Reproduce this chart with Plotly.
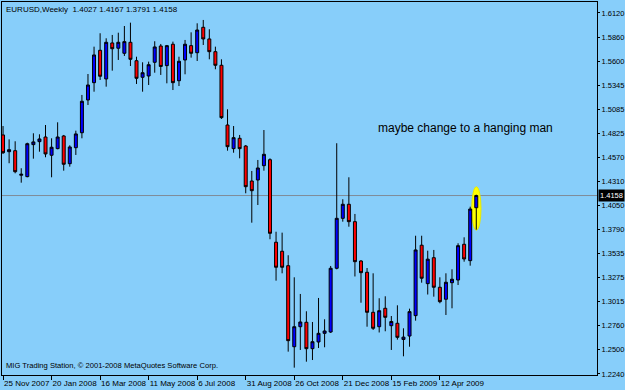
import plotly.graph_objects as go
import pandas as pd

# ---- data (EURUSD weekly) ----
week_start = "2007-11-25"
n_weeks = 79
opens = [1.4809, 1.4629, 1.4640, 1.4376, 1.4361, 1.4705, 1.4737, 1.4787, 1.4591, 1.4662,
         1.4798, 1.4500, 1.4672, 1.4833, 1.5185, 1.5371, 1.5719, 1.5411, 1.5798, 1.5741,
         1.5687, 1.5805, 1.5607, 1.5429, 1.5443, 1.5590, 1.5765, 1.5554, 1.5784, 1.5392,
         1.5615, 1.5769, 1.5693, 1.5966, 1.5841, 1.5704, 1.5558, 1.4916, 1.4662, 1.4773,
         1.4690, 1.4314, 1.4325, 1.4479, 1.4543, 1.3656, 1.3559, 1.3404, 1.2533, 1.2748,
         1.2796, 1.2512, 1.2584, 1.2677, 1.2691, 1.3376, 1.3913, 1.4064, 1.3877, 1.3454,
         1.3333, 1.2903, 1.2748, 1.2946, 1.2759, 1.2785, 1.2611, 1.2648, 1.2867, 1.3624,
         1.3211, 1.3490, 1.3172, 1.3043, 1.3221, 1.3250, 1.3634, 1.3458, 1.4027]
highs = [1.4905, 1.4762, 1.4741, 1.4451, 1.4726, 1.4827, 1.4816, 1.4916, 1.4773, 1.4945,
         1.4809, 1.4698, 1.4855, 1.5239, 1.5464, 1.5758, 1.5902, 1.5848, 1.5884, 1.5908,
         1.5980, 1.6016, 1.5650, 1.5590, 1.5597, 1.5816, 1.5787, 1.5776, 1.5812, 1.5650,
         1.5830, 1.5912, 1.6009, 1.6045, 1.5945, 1.5758, 1.5622, 1.5085, 1.4905, 1.4809,
         1.4701, 1.4422, 1.4540, 1.4862, 1.4558, 1.3769, 1.3759, 1.3516, 1.3279, 1.3100,
         1.2914, 1.2799, 1.3057, 1.2828, 1.3401, 1.4720, 1.4118, 1.4354, 1.3960, 1.3465,
         1.3379, 1.3322, 1.3054, 1.3075, 1.2863, 1.2978, 1.2731, 1.2942, 1.3726, 1.3726,
         1.3565, 1.3573, 1.3279, 1.3322, 1.3365, 1.3645, 1.3709, 1.4038, 1.4167]
lows = [1.4605, 1.4505, 1.4397, 1.4296, 1.4354, 1.4554, 1.4629, 1.4569, 1.4354, 1.4655,
        1.4425, 1.4468, 1.4594, 1.4773, 1.5131, 1.5274, 1.5400, 1.5328, 1.5500, 1.5615,
        1.5658, 1.5550, 1.5357, 1.5274, 1.5346, 1.5478, 1.5454, 1.5364, 1.5292, 1.5335,
        1.5461, 1.5640, 1.5604, 1.5776, 1.5622, 1.5515, 1.4981, 1.4640, 1.4618, 1.4558,
        1.4182, 1.3866, 1.4056, 1.4425, 1.3688, 1.3243, 1.3322, 1.2480, 1.2308, 1.2498,
        1.2372, 1.2390, 1.2519, 1.2527, 1.2681, 1.3365, 1.3877, 1.3823, 1.3288, 1.3006,
        1.2748, 1.2713, 1.2686, 1.2699, 1.2498, 1.2609, 1.2430, 1.2533, 1.2813, 1.3221,
        1.3094, 1.3071, 1.3000, 1.2874, 1.2946, 1.3196, 1.3447, 1.3404, 1.3791]
closes = [1.4618, 1.4651, 1.4414, 1.4386, 1.4715, 1.4734, 1.4766, 1.4605, 1.4677, 1.4787,
          1.4494, 1.4680, 1.4820, 1.5171, 1.5346, 1.5669, 1.5440, 1.5805, 1.5736, 1.5805,
          1.5812, 1.5622, 1.5418, 1.5478, 1.5564, 1.5755, 1.5545, 1.5769, 1.5371, 1.5601,
          1.5784, 1.5687, 1.5937, 1.5841, 1.5704, 1.5558, 1.4995, 1.4683, 1.4780, 1.4662,
          1.4253, 1.4210, 1.4454, 1.4601, 1.3752, 1.3387, 1.3387, 1.2598, 1.2748, 1.2799,
          1.2512, 1.2587, 1.2677, 1.2702, 1.3376, 1.3913, 1.4064, 1.3877, 1.3447, 1.3329,
          1.2903, 1.2731, 1.2920, 1.2849, 1.2804, 1.2634, 1.2636, 1.2910, 1.3573, 1.3269,
          1.3474, 1.3172, 1.3017, 1.3226, 1.3258, 1.3619, 1.3476, 1.4013, 1.4158]

date_tick_labels = ["25 Nov 2007", "20 Jan 2008", "16 Mar 2008", "11 May 2008", "6 Jul 2008",
                    "31 Aug 2008", "26 Oct 2008", "21 Dec 2008", "15 Feb 2009", "12 Apr 2009"]
price_ticks = [1.6120, 1.5860, 1.5600, 1.5345, 1.5085, 1.4825, 1.4570, 1.4310,
               1.4050, 1.3790, 1.3535, 1.3275, 1.3015, 1.2760, 1.2500, 1.2240]
price_tick_labels = ["1.6120", "1.5860", "1.5600", "1.5345", "1.5085", "1.4825", "1.4570", "1.4310",
                     "1.4050", "1.3790", "1.3535", "1.3275", "1.3015", "1.2760", "1.2500", "1.2240"]
header_text = "EURUSD,Weekly  1.4027 1.4167 1.3791 1.4158"
note_text = "maybe change to a hanging man"
footer_text = "MIG Trading Station, © 2001-2008 MetaQuotes Software Corp."
last_price_label = "1.4158"

dates = pd.date_range(week_start, periods=n_weeks, freq="7D")
week = pd.Timedelta(days=7)
date_tick_vals = list(dates[::8][:len(date_tick_labels)])

BG = "#87CEFA"
FONT = "Liberation Sans"

fig = go.Figure()
fig.add_trace(go.Candlestick(
    x=dates, open=opens, high=highs, low=lows, close=closes,
    increasing=dict(fillcolor="#0000FF", line=dict(color="#000000", width=1)),
    decreasing=dict(fillcolor="#FF0000", line=dict(color="#000000", width=1)),
    whiskerwidth=0, showlegend=False, hoverinfo="skip",
))

last_x = dates[-1]
# yellow highlight around the last candle
fig.add_shape(type="circle", xref="x", yref="y",
              x0=last_x - 0.75 * week, x1=last_x + 0.78 * week,
              y0=lows[-1] - 0.0005, y1=highs[-1] + 0.0085,
              fillcolor="#FFFF00", line=dict(color="#E8E800", width=1), layer="below")
# last price line
fig.add_shape(type="line", xref="paper", yref="y", x0=0, x1=1,
              y0=closes[-1], y1=closes[-1],
              line=dict(color="#7F8C99", width=1), layer="below")

fig.add_annotation(xref="paper", yref="y", x=1, y=closes[-1], text=last_price_label,
                   xanchor="left", yanchor="middle", xshift=1, showarrow=False,
                   bgcolor="#000000", borderpad=1,
                   font=dict(family=FONT, size=7.5, color="#FFFFFF"))
fig.add_annotation(xref="paper", yref="paper", x=0, y=1, text=header_text,
                   xanchor="left", yanchor="top", xshift=2, yshift=-1, showarrow=False,
                   font=dict(family=FONT, size=8, color="#000000"))
fig.add_annotation(xref="paper", yref="paper", x=0, y=0, text=footer_text,
                   xanchor="left", yanchor="bottom", xshift=2, yshift=3, showarrow=False,
                   font=dict(family=FONT, size=7.6, color="#000000"))
fig.add_annotation(xref="x", yref="y", x=dates[0] + 61.5 * week, y=1.4880, text=note_text,
                   xanchor="left", yanchor="middle", showarrow=False,
                   font=dict(family=FONT, size=12, color="#000000"))

fig.update_layout(
    width=625, height=390,
    margin=dict(l=2, r=28, t=2, b=15, autoexpand=False),
    paper_bgcolor=BG, plot_bgcolor=BG,
    showlegend=False, boxgap=0.3,
    xaxis=dict(
        type="date",
        range=[dates[0] - pd.Timedelta(days=1.2), dates[0] + 97.9 * week],
        rangeslider=dict(visible=False),
        tickmode="array", tickvals=date_tick_vals, ticktext=date_tick_labels,
        tickangle=0, automargin=False,
        ticks="outside", ticklen=4, tickcolor="#000000",
        ticklabelposition="outside right",
        tickfont=dict(family=FONT, size=8, color="#000000"),
        showgrid=False, zeroline=False,
        showline=True, linecolor="#000000", linewidth=1, mirror=True,
    ),
    yaxis=dict(
        side="right", range=[1.2229, 1.6238], automargin=False,
        tickmode="array", tickvals=price_ticks, ticktext=price_tick_labels,
        ticks="outside", ticklen=2, tickcolor="#000000",
        tickfont=dict(family=FONT, size=7.5, color="#000000"),
        showgrid=False, zeroline=False,
        showline=True, linecolor="#000000", linewidth=1, mirror=True,
    ),
)

fig.write_html("out.html")
